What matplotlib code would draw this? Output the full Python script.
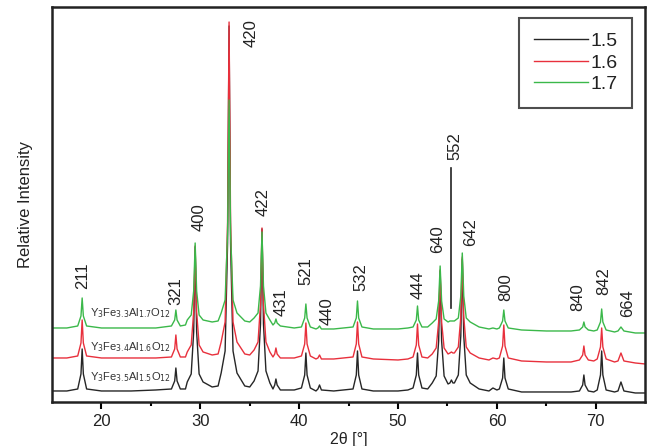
import matplotlib
matplotlib.use("Agg")
import matplotlib.pyplot as plt

plt.rcParams['font.family'] = ['Liberation Sans', 'DejaVu Sans']

# 2theta points (shared by the three patterns),
# one line per reflection
two_theta = [15.0, 16.5,
             17.6, 17.93, 18.05, 18.17, 18.5,
             20.0, 23.0, 25.5,
             27.08, 27.41, 27.53, 27.65, 27.98, 28.5,
             28.68, 29.08, 29.33, 29.48, 29.63, 29.88, 30.28, 31.2, 31.8,
             32.11, 32.51, 32.76, 32.91, 33.06, 33.31, 33.71, 34.5, 35.0,
             35.44, 35.84, 36.09, 36.24, 36.39, 36.64, 37.04, 37.35,
             37.53, 37.65, 37.77, 38.1, 39.5,
             40.23, 40.56, 40.68, 40.8, 41.13, 41.7,
             41.9, 42.06, 42.25, 43.5,
             45.45, 45.78, 45.9, 46.02, 46.35, 47.5, 50.0, 51.0,
             51.52, 51.85, 51.97, 52.09, 52.42, 53.0,
             53.46, 53.86, 54.11, 54.26, 54.41, 54.66, 55.06,
             55.25, 55.4, 55.55,
             55.7, 56.1, 56.35, 56.5, 56.65, 56.9, 57.3, 58.2, 59.2,
             59.6, 60.0,
             60.25, 60.58, 60.7, 60.82, 61.15, 62.5, 65.0, 67.5,
             68.35, 68.68, 68.8, 68.92, 69.25, 69.8,
             70.15, 70.48, 70.6, 70.72, 71.05, 71.9,
             72.25, 72.55, 72.85, 74.0, 75.0]

int_15 = [2, 2,
          4, 19, 44, 19, 4,
          2, 2, 3,
          4, 12, 25, 12, 4, 4,
          11, 19, 61, 146, 61, 19, 11, 6, 7,
          20, 42, 150, 367, 150, 42, 20, 7, 6,
          12, 22, 69, 164, 69, 22, 10, 4,
          8, 14, 8, 3, 3,
          5, 18, 40, 18, 5, 2,
          4, 8, 3, 2,
          4, 18, 42, 18, 4, 2, 2, 3,
          5, 18, 40, 18, 5, 4,
          10, 17, 52, 122, 52, 17, 9,
          10, 13, 10,
          10, 18, 57, 134, 57, 18, 10, 4, 2,
          5, 3,
          4, 15, 35, 15, 4, 1, 1, 1,
          2, 8, 18, 8, 2, 1,
          3, 18, 42, 18, 3, 1,
          2, 11, 2, 0, 0]

int_16 = [6, 6,
          8, 21, 44, 21, 8,
          6, 6, 6,
          7, 15, 29, 15, 7, 7,
          12, 19, 52, 118, 52, 19, 12, 9, 10,
          22, 42, 142, 342, 142, 42, 22, 10, 9,
          14, 22, 60, 136, 60, 22, 12, 7,
          10, 16, 10, 6, 6,
          8, 20, 41, 20, 8, 5,
          6, 9, 5, 5,
          7, 20, 42, 20, 7, 5, 4, 5,
          7, 19, 40, 19, 7, 6,
          10, 16, 42, 94, 42, 16, 10,
          11, 12, 11,
          11, 17, 47, 107, 47, 17, 11, 6, 4,
          6, 5,
          6, 18, 39, 18, 6, 3, 2, 2,
          4, 9, 18, 9, 4, 3,
          5, 17, 36, 17, 5, 2,
          3, 11, 3, 1, 0]

int_17 = [5, 5,
          7, 17, 35, 17, 7,
          5, 5, 5,
          7, 13, 23, 13, 7, 8,
          13, 18, 42, 90, 42, 18, 13, 11, 12,
          20, 33, 100, 233, 100, 33, 20, 12, 11,
          15, 20, 47, 101, 47, 20, 13, 8,
          10, 14, 10, 7, 5,
          6, 15, 29, 15, 6, 4,
          5, 7, 4, 4,
          6, 15, 32, 15, 6, 4, 4, 5,
          6, 13, 27, 13, 6, 6,
          10, 14, 32, 67, 32, 14, 11,
          12, 12, 12,
          12, 15, 37, 80, 37, 15, 11, 6, 4,
          5, 4,
          5, 12, 23, 12, 5, 3, 2, 2,
          3, 6, 11, 6, 3, 2,
          3, 11, 24, 11, 3, 1,
          2, 6, 2, 0, 0]

assert len(two_theta) == len(int_15) == len(int_16) == len(int_17)

series_names = ['1.5', '1.6', '1.7']
compounds = [r'Y$_3$Fe$_{3.5}$Al$_{1.5}$O$_{12}$',
             r'Y$_3$Fe$_{3.4}$Al$_{1.6}$O$_{12}$',
             r'Y$_3$Fe$_{3.3}$Al$_{1.7}$O$_{12}$']

hkl = ['211', '321', '400', '420', '422', '431', '521', '440', '532',
       '444', '640', '552', '642', '800', '840', '842', '664']

# layout / style
offsets = [9, 38, 69]
colors = ['#262626', '#e8303c', '#3bb84a']
hkl_xy = [(18.08, 126), (27.56, 111), (29.88, 185), (35.13, 369), (36.34, 200),
          (38.16, 100), (40.68, 131), (42.8, 91), (46.2, 125), (52.08, 117),
          (54.0, 163), (55.8, 256), (57.3, 170), (60.85, 115), (68.2, 105),
          (70.84, 121), (73.26, 99)]

fig = plt.figure(figsize=(6.55, 4.46), dpi=100)
ax = fig.add_axes([0.0794, 0.0987, 0.9056, 0.8856])

for ints, off, col, name in zip([int_15, int_16, int_17], offsets, colors, series_names):
    ax.plot(two_theta, [v + off for v in ints], color=col, lw=1.0, label=name)

for comp, y in zip(compounds, [25, 55, 89]):
    ax.text(22.9, y, comp, fontsize=8, ha='center', va='center', color='#333333')

for lab, (x, y) in zip(hkl, hkl_xy):
    ax.text(x, y, lab, rotation=90, fontsize=12, ha='center', va='center', color='#222222')

# marker line for the weak 552 reflection
ax.plot([55.4, 55.4], [94, 234], color='#222222', lw=1.2)

ax.set_xlim(15, 75)
ax.set_ylim(0, 395)
ax.set_yticks([])
ax.set_xticks([20, 30, 40, 50, 60, 70])
ax.set_xticks([25, 35, 45, 55, 65], minor=True)
ax.tick_params(axis='x', which='major', direction='out', length=5, width=1.5,
               labelsize=12, labelcolor='#222222')
ax.tick_params(axis='x', which='minor', direction='out', length=3, width=1.5)
for s in ax.spines.values():
    s.set_linewidth(1.8)
    s.set_color('#222222')

ax.set_ylabel('Relative Intensity', fontsize=12, color='#222222', labelpad=14)
ax.set_xlabel('2θ [°]', fontsize=11.5, color='#222222')
ax.xaxis.set_label_coords(0.5, -0.076)

leg = ax.legend(loc='upper right', bbox_to_anchor=(0.978, 0.972), fontsize=14,
                frameon=True, fancybox=False, handlelength=2.8, labelspacing=0.2,
                borderpad=0.75, handletextpad=0.1, borderaxespad=0)
leg.get_frame().set_edgecolor('#222222')
leg.get_frame().set_linewidth(1.5)
for t in leg.get_texts():
    t.set_color('#222222')

fig.savefig('out.png', dpi=100)
